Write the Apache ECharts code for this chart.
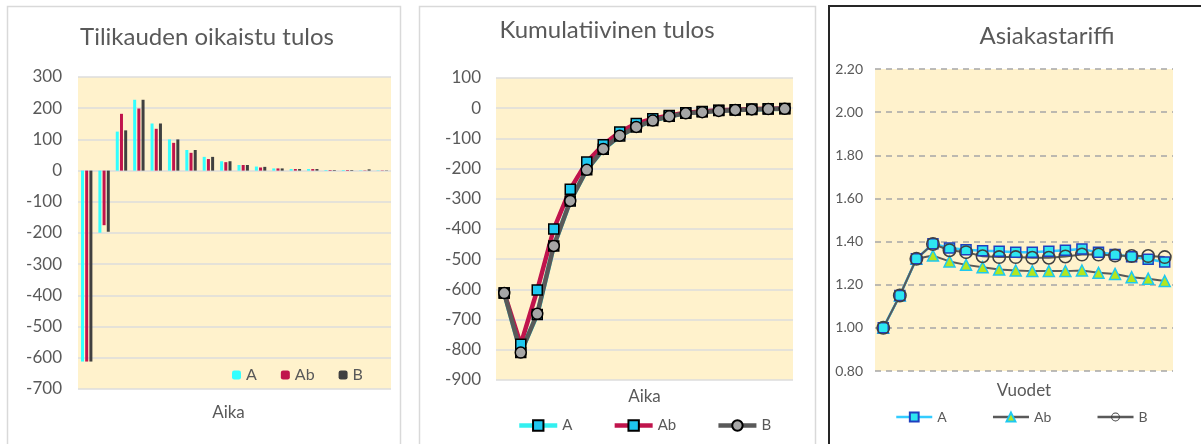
<!DOCTYPE html>
<html lang="fi">
<head>
  <meta charset="UTF-8" />
  <title>Tulos ja asiakastariffi</title>
  <script src="https://cdn.jsdelivr.net/npm/echarts@6/dist/echarts.min.js"></script>
  <style>
    html, body { margin: 0; padding: 0; background: #fff; }
    #chart { width: 1201px; height: 444px; }
  </style>
</head>
<body>
  <div id="chart"></div>

  <script>
    // 18 periodia, ei nakyvia kategorioita
    const periods = ['1','2','3','4','5','6','7','8','9','10','11','12','13','14','15','16','17','18'];

    // Tilikauden oikaistu tulos
    const resultA  = [-612, -199, 125, 227, 151, 100, 66, 44, 30, 18, 13, 7, 5, 5, 2, 2, 1, 1];
    const resultAb = [-612, -175, 182, 199, 134, 89, 57, 37, 27, 18, 10, 7, 5, 5, 2, 2, 1, 1];
    const resultB  = [-612, -196, 129, 227, 151, 100, 66, 44, 30, 18, 12, 7, 5, 5, 2, 2, 4, 1];

    // Kumulatiivinen tulos (A jaa B:n alle)
    const cumA  = [-612, -809, -683, -456, -307, -204, -136, -92, -62, -41, -27, -17, -12, -8, -6, -4, -3, -2];
    const cumAb = [-612, -782, -602, -400, -268, -178, -121, -79, -51, -35, -24, -15, -11, -7, -5, -3, -2, -1];
    const cumB  = [-612, -809, -681, -456, -307, -204, -135, -91, -62, -41, -27, -17, -13, -9, -6, -4, -3, -2];

    // Asiakastariffi
    const tariffA  = [1.00, 1.15, 1.32, 1.39, 1.37, 1.362, 1.358, 1.355, 1.351, 1.351, 1.355, 1.36, 1.365, 1.35, 1.34, 1.33, 1.318, 1.305];
    const tariffAb = [1.00, 1.15, 1.32, 1.335, 1.308, 1.292, 1.281, 1.271, 1.266, 1.263, 1.263, 1.263, 1.266, 1.255, 1.25, 1.235, 1.228, 1.217];
    const tariffB  = [1.00, 1.15, 1.32, 1.389, 1.36, 1.351, 1.332, 1.328, 1.328, 1.325, 1.325, 1.331, 1.34, 1.34, 1.335, 1.333, 1.333, 1.328];

    const font = 'Lato, "Noto Sans", sans-serif';
    const grey = '#595959';
    const plotBg = '#fff2cc';
    // ontto ympyra (rengas) B-sarjalle
    const ring = 'path://M0,-10A10,10,0,1,1,0,10A10,10,0,1,1,0,-10ZM0,-7.8A7.8,7.8,0,1,0,0,7.8A7.8,7.8,0,1,0,0,-7.8Z';

    const chart = echarts.init(document.getElementById('chart'));

    const panelTitle = (text, x, y) => ({
      type: 'text', x, y,
      style: { text, fill: grey, font: '24px ' + font, textAlign: 'center', textVerticalAlign: 'middle' }
    });

    const catAxis = (gridIndex, name, gap, shift) => ({
      type: 'category', gridIndex, data: periods,
      name, nameLocation: 'middle', nameGap: gap,
      nameTextStyle: { color: grey, fontSize: 17, fontFamily: font, padding: [0, shift, 0, 0] },
      axisLine: { show: false }, axisTick: { show: false }, axisLabel: { show: false }
    });

    const stripSuffix = n => n.split('#')[0];

    chart.setOption({
      animation: false,
      textStyle: { fontFamily: font },
      graphic: [
        { type: 'rect', shape: { x: 7.5, y: 6.5, width: 393, height: 460 }, style: { fill: 'none', stroke: '#d9d9d9', lineWidth: 1.5 } },
        { type: 'rect', shape: { x: 419.5, y: 6.5, width: 396, height: 460 }, style: { fill: 'none', stroke: '#d9d9d9', lineWidth: 1.5 } },
        { type: 'rect', shape: { x: 829, y: 6, width: 390, height: 460 }, style: { fill: 'none', stroke: '#262626', lineWidth: 2 } },
        panelTitle('Tilikauden oikaistu tulos', 207, 37),
        panelTitle('Kumulatiivinen tulos', 607, 30),
        panelTitle('Asiakastariffi', 1047, 36)
      ],
      grid: [
        { left: 78, top: 77, width: 313, height: 312, show: true, backgroundColor: plotBg, borderWidth: 0 },
        { left: 496, top: 78, width: 297, height: 302, show: true, backgroundColor: plotBg, borderWidth: 0 },
        { left: 875, top: 69, width: 298, height: 302, show: true, backgroundColor: plotBg, borderWidth: 0 }
      ],
      legend: [
        {
          data: ['A', 'Ab', 'B'], left: 227, top: 362,
          itemWidth: 9, itemHeight: 9, itemGap: 24,
          textStyle: { color: grey, fontSize: 16 }
        },
        {
          data: ['A#2', 'Ab#2', 'B#2'], left: 512, top: 413,
          itemWidth: 38, itemHeight: 13, itemGap: 40, formatter: stripSuffix,
          lineStyle: { width: 4.5 },
          textStyle: { color: grey, fontSize: 15 }
        },
        {
          data: ['A#3', 'Ab#3', 'B#3'], left: 890, top: 405,
          itemWidth: 36, itemHeight: 11, itemGap: 45, formatter: stripSuffix,
          lineStyle: { width: 2.5 },
          textStyle: { color: grey, fontSize: 14 }
        }
      ],
      xAxis: [
        catAxis(0, 'Aika', 15, 12),
        catAxis(1, 'Aika', 8, 0),
        catAxis(2, 'Vuodet', 11, 0)
      ],
      yAxis: [
        {
          type: 'value', gridIndex: 0, min: -700, max: 300, interval: 100,
          axisLine: { show: false }, axisTick: { show: false },
          axisLabel: { color: grey, fontSize: 17, margin: 16 },
          splitLine: { lineStyle: { color: '#dcdcdc', width: 1.5 } }
        },
        {
          type: 'value', gridIndex: 1, min: -900, max: 100, interval: 100,
          axisLine: { show: false }, axisTick: { show: false },
          axisLabel: { color: grey, fontSize: 17, margin: 15 },
          splitLine: { lineStyle: { color: '#dcdcdc', width: 1.5 } }
        },
        {
          type: 'value', gridIndex: 2, min: 0.8, max: 2.2, interval: 0.2,
          axisLine: { show: false }, axisTick: { show: false },
          axisLabel: { color: grey, fontSize: 14, margin: 12, formatter: v => v.toFixed(2) },
          splitLine: { lineStyle: { color: '#a6a6a6', width: 1.5, type: [6, 5] } }
        }
      ],
      series: [
        // paneeli 1: pylvaat
        { name: 'A', type: 'bar', xAxisIndex: 0, yAxisIndex: 0, data: resultA, barWidth: 3, barGap: '40%', itemStyle: { color: '#33ffff' } },
        { name: 'Ab', type: 'bar', xAxisIndex: 0, yAxisIndex: 0, data: resultAb, barWidth: 3, barGap: '40%', itemStyle: { color: '#c0144c' } },
        { name: 'B', type: 'bar', xAxisIndex: 0, yAxisIndex: 0, data: resultB, barWidth: 3, barGap: '40%', itemStyle: { color: '#404040' } },

        // paneeli 2: kumulatiivinen
        {
          name: 'A#2', type: 'line', xAxisIndex: 1, yAxisIndex: 1, data: cumA,
          symbol: 'rect', symbolSize: 10, showAllSymbol: true,
          lineStyle: { color: '#33f0f0', width: 4.5 },
          itemStyle: { color: '#1ec8f0', borderColor: '#000', borderWidth: 1.5 }
        },
        {
          name: 'Ab#2', type: 'line', xAxisIndex: 1, yAxisIndex: 1, data: cumAb,
          symbol: 'rect', symbolSize: 10, showAllSymbol: true,
          lineStyle: { color: '#c0144c', width: 4.5 },
          itemStyle: { color: '#1ec8f0', borderColor: '#000', borderWidth: 1.5 }
        },
        {
          name: 'B#2', type: 'line', xAxisIndex: 1, yAxisIndex: 1, data: cumB,
          symbol: 'circle', symbolSize: 11, showAllSymbol: true,
          lineStyle: { color: '#595959', width: 4.5 },
          itemStyle: { color: '#a6a6a6', borderColor: '#000', borderWidth: 1.5 }
        },

        // paneeli 3: asiakastariffi
        {
          name: 'Ab#3', type: 'line', xAxisIndex: 2, yAxisIndex: 2, data: tariffAb,
          symbol: 'triangle', symbolSize: 11, showAllSymbol: true,
          lineStyle: { color: '#595959', width: 2 },
          itemStyle: { color: '#b5e61d', borderColor: '#1ec8f0', borderWidth: 1.5 }
        },
        {
          name: 'A#3', type: 'line', xAxisIndex: 2, yAxisIndex: 2, data: tariffA,
          symbol: 'rect', symbolSize: 10, showAllSymbol: true,
          lineStyle: { color: '#33ccff', width: 2.5 },
          itemStyle: { color: '#2ee6f0', borderColor: '#1f3fbf', borderWidth: 1.5 }
        },
        {
          name: 'B#3', type: 'line', xAxisIndex: 2, yAxisIndex: 2, data: tariffB,
          symbol: ring, symbolSize: 14, showAllSymbol: true,
          lineStyle: { color: '#595959', width: 2 },
          itemStyle: { color: '#404040' }
        }
      ]
    });
  </script>
</body>
</html>
